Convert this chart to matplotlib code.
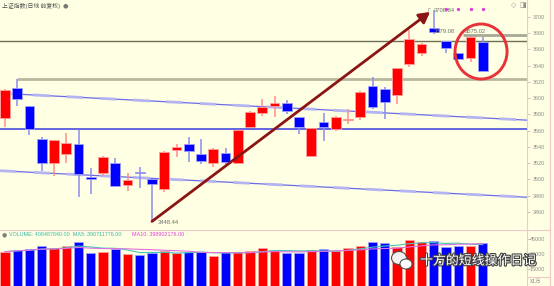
import matplotlib
matplotlib.use("Agg")
import matplotlib.pyplot as plt
import numpy as np
import pandas as pd
from matplotlib.patches import Rectangle, Ellipse, FancyArrowPatch
from matplotlib.lines import Line2D
import matplotlib.patheffects as pe

# ---------------- data ----------------
opens  = [3575.3, 3613.0, 3590.5, 3549.8, 3520.0, 3531.4, 3543.7, 3502.7, 3507.6, 3520.7,
          3493.2, 3509.0, 3500.2, 3487.9, 3536.0, 3543.3, 3531.0, 3520.0, 3532.2, 3520.0,
          3564.3, 3581.5, 3590.8, 3593.8, 3576.6, 3529.3, 3571.1, 3561.8, 3573.2, 3577.3,
          3615.4, 3611.0, 3604.0, 3641.8, 3655.3, 3687.0, 3670.5, 3655.3, 3649.2, 3669.6]
highs  = [3611.0, 3624.0, 3591.0, 3552.7, 3548.5, 3557.6, 3560.9, 3513.8, 3529.0, 3526.8,
          3507.6, 3515.8, 3501.0, 3535.5, 3543.7, 3552.0, 3549.8, 3538.8, 3538.4, 3561.5,
          3584.7, 3598.7, 3602.8, 3597.8, 3577.0, 3563.5, 3581.5, 3578.0, 3586.4, 3609.3,
          3626.5, 3613.5, 3637.5, 3684.0, 3668.4, 3708.84, 3671.0, 3656.0, 3676.0, 3675.02]
lows   = [3565.0, 3590.5, 3554.8, 3511.0, 3504.7, 3520.0, 3478.8, 3482.2, 3504.7, 3491.5,
          3486.0, 3490.0, 3448.44, 3485.0, 3528.0, 3522.0, 3518.7, 3515.0, 3515.8, 3519.0,
          3563.5, 3578.2, 3576.6, 3580.6, 3556.0, 3528.0, 3547.8, 3560.0, 3568.3, 3573.2,
          3586.4, 3574.0, 3592.6, 3638.8, 3652.0, 3679.08, 3655.3, 3647.0, 3645.0, 3633.0]
closes = [3610.2, 3598.7, 3562.0, 3520.0, 3548.0, 3545.3, 3506.8, 3500.2, 3528.0, 3492.4,
          3499.4, 3508.0, 3494.0, 3533.4, 3539.6, 3535.0, 3523.1, 3537.5, 3522.0, 3560.9,
          3582.7, 3589.6, 3593.8, 3584.7, 3565.0, 3563.0, 3564.3, 3577.3, 3574.5, 3608.1,
          3589.6, 3595.8, 3636.9, 3672.9, 3666.4, 3681.0, 3661.5, 3648.0, 3675.8, 3633.5]
# volume in units of 1万
volumes = [32347, 34082, 35102, 38469, 35816, 38469, 42551, 30714, 32347, 35102,
           30000, 28980, 31327, 33061, 31327, 32347, 31735, 27959, 31735, 32347,
           33367, 36429, 34082, 31327, 30714, 34082, 35102, 33367, 35816, 38163,
           42551, 40918, 36837, 44286, 42551, 43265, 36837, 38469, 38469, 40849]

price_ticks = list(range(3460, 3701, 20))
vol_ticks = [15000, 30000, 45000]
vol_tick_labels = ["15000", "30000", "45000"]

# drawn lines (index, price)
hline_dark = 3670.5
hline_grey_long = (1, 3623.7)
hline_grey_short = (37.4, 3677.5)
hline_blue = 3561.8
chan_upper = [(0, 3605.8), (42, 3573.5)]
chan_lower = [(0, 3510.5), (42, 3478.6)]
arrow_start = (12, 3448.44)
arrow_end = (34.7, 3706.2)
circle_center = (38.86, 3657.5)
signal_idx = [36, 37, 38, 39]
signal_price = 3709.5

title = "上证指数(日线 前复权)"
vol_text1 = "VOLUME: 408487840.00  MA5: 390711776.00"
vol_text2 = "MA10: 398902176.00"
watermark = "十方的短线操作日记"

# ---------------- figure ----------------
W, H = 554, 286
BG = "#FFFFE3"
SMALL = ["Liberation Sans", "DejaVu Sans"]
CJK = ["Noto Sans CJK SC", "DejaVu Sans"]
FS = 3.9

fig = plt.figure(figsize=(W / 100, H / 100), dpi=100, facecolor=BG)
ax = fig.add_axes([0, 58 / H, 527 / W, 228 / H], facecolor=BG)
axv = fig.add_axes([0, 0, 527 / W, 56 / H], facecolor=BG)

n = len(opens)
x = np.arange(n)
XL = (-0.408, 42.61)
ax.set_xlim(*XL)
ax.set_ylim(3440.3, 3720.9)
axv.set_xlim(*XL)
axv.set_ylim(-2653, 54490)

RED, BLUE = "#FF0000", "#0000FF"
RED_W, BLUE_W = "#FF8C8C", "#8C8CEE"
RED_E, BLUE_E = "#FFA0A0", "#A0A0FF"

# reference lines (behind candles)
ax.axhline(hline_dark, color="#6E6E58", lw=1.0, zorder=1)
ax.hlines(hline_grey_long[1], hline_grey_long[0], XL[1], color="#B8B89E", lw=2.0, zorder=1)
ax.hlines(hline_grey_short[1], hline_grey_short[0], XL[1], color="#A8A898", lw=2.0, zorder=1)
ax.axhline(hline_blue, color="#3C3CE0", lw=1.1, zorder=1)
for ch in (chan_upper, chan_lower):
    (x0, y0), (x1, y1) = ch
    s = (y1 - y0) / (x1 - x0)
    xs = np.array(XL)
    ys = y0 + s * (xs - x0)
    ax.plot(xs, ys, color="#6A6AE8", lw=0.9, zorder=1)
    ax.plot(xs, ys, color="#B4B4F2", lw=2.0, dashes=(6, 6), zorder=1)

bw = 0.78
for i in range(n):
    o, h, l, c = opens[i], highs[i], lows[i], closes[i]
    up = c >= o
    wc = RED_W if up else BLUE_W
    ax.vlines(i, l, h, color=wc, lw=1.1, zorder=2)
    bot = min(o, c)
    ht = max(abs(c - o), 1.6)
    ax.add_patch(Rectangle((i - bw / 2, bot), bw, ht,
                           facecolor=RED if up else BLUE,
                           edgecolor=RED_E if up else BLUE_E, lw=0.6, zorder=3))

# signal dots
ax.scatter(signal_idx, [signal_price] * len(signal_idx), s=2, color="#E040E0", zorder=4)

# arrow
ax.add_patch(FancyArrowPatch(arrow_start, arrow_end, arrowstyle="-|>,head_length=4,head_width=2.2",
                             mutation_scale=1.6, color="#8B1414", lw=2.0, zorder=5,
                             shrinkA=0, shrinkB=0))
# red circle
ax.add_patch(Ellipse(circle_center, 52 / 12.25, 55 / 0.8125, fill=False,
                     edgecolor="#E8323A", lw=2.1, zorder=6))

# price labels
lab_kw = dict(fontsize=4.2, family=SMALL, color="#6E6E6E", va="center", zorder=7)
ax.text(35.0, 3707.5, "3708.84", ha="left", **lab_kw)
ax.text(34.45, 3708.3, "Γ", ha="left", fontsize=4, color="#888888", va="center", family="DejaVu Sans")
ax.text(35.0, 3682.0, "3679.08", ha="left", **lab_kw)
ax.text(37.5, 3682.0, "3675.02", ha="left", **lab_kw)
ax.text(12.5, 3447.0, "3448.44", ha="left", **lab_kw)

# axes styling
for a in (ax, axv):
    for s in a.spines.values():
        s.set_visible(False)
    a.set_xticks([])
    a.yaxis.tick_right()

ax.set_yticks(price_ticks)
ax.tick_params(axis="y", length=2.2, width=0.6, color="#D8B0B0", pad=10.8,
               labelsize=FS, labelcolor="#8C8C8C")
for t in ax.yaxis.get_major_ticks():
    t.label2.set_horizontalalignment("right")
    t.label2.set_family(SMALL)

# volume
for i in range(n):
    up = closes[i] >= opens[i]
    axv.bar(i, volumes[i] + 2653, bottom=-2653, width=0.76,
            color=RED if up else BLUE, edgecolor=RED_E if up else BLUE_E, lw=0.6, zorder=2)
vs = pd.Series(volumes, dtype=float)
axv.plot(x, vs.rolling(5, min_periods=1).mean(), color="#48C8B8", lw=0.8, zorder=3)
axv.plot(x, vs.rolling(10, min_periods=1).mean(), color="#E070E0", lw=0.8, zorder=3)
axv.set_yticks(vol_ticks)
axv.set_yticklabels(vol_tick_labels)
axv.tick_params(axis="y", length=2.2, width=0.6, color="#D8B0B0", pad=10.8,
                labelsize=FS, labelcolor="#8C8C8C")
for t in axv.yaxis.get_major_ticks():
    t.label2.set_horizontalalignment("right")
    t.label2.set_family(SMALL)

# frame lines
PINK = "#F2C8C8"
fig.add_artist(Line2D([527 / W, 527 / W], [0, 1], color=PINK, lw=0.8))
fig.add_artist(Line2D([550 / W, 550 / W], [0, 1], color=PINK, lw=0.8))
fig.add_artist(Line2D([0, 550 / W], [1 - 230 / H, 1 - 230 / H], color=PINK, lw=0.8))
fig.add_artist(Line2D([527 / W, 550 / W], [1 - 277 / H, 1 - 277 / H], color=PINK, lw=0.8))

# texts
fig.text(2 / W, 1 - 5.5 / H, title, fontsize=4.2, family=CJK, color="#505050", va="center")
fig.text(63 / W, 1 - 5.5 / H, "●", fontsize=4.5, family="DejaVu Sans", color="#777777", va="center")
fig.text(511 / W, 1 - 5 / H, "◇", fontsize=5, family="DejaVu Sans", color="#909090", va="center")
fig.text(519 / W, 1 - 5 / H, "◨", fontsize=5, family="DejaVu Sans", color="#909090", va="center")
fig.text(2 / W, 1 - 234.7 / H, "●", fontsize=4.2, family="DejaVu Sans", color="#808080", va="center")
fig.text(9 / W, 1 - 234.7 / H, vol_text1, fontsize=FS, family=SMALL, color="#38B8A8", va="center")
fig.text(132.5 / W, 1 - 234.7 / H, vol_text2, fontsize=FS, family=SMALL, color="#E040E0", va="center")
fig.text(530 / W, 1 - 281.5 / H, "X1万", fontsize=FS, family=CJK,
         color="#8C8C8C", va="center")

# watermark
fig.add_artist(Ellipse((399 / W, 1 - 258 / H), 15 / W, 13 / H, transform=fig.transFigure,
                       facecolor="#F6F0F0", edgecolor="#505050", lw=0.8))
fig.add_artist(Ellipse((406 / W, 1 - 264 / H), 12 / W, 10 / H, transform=fig.transFigure,
                       facecolor="#FFFFFF", edgecolor="#505050", lw=0.8))
fig.text(420 / W, 1 - 261 / H, watermark, fontsize=9.3, family=CJK, color="white", va="center",
         path_effects=[pe.withStroke(linewidth=1.6, foreground="#404040")])

fig.savefig("out.png", dpi=100, facecolor=BG)
